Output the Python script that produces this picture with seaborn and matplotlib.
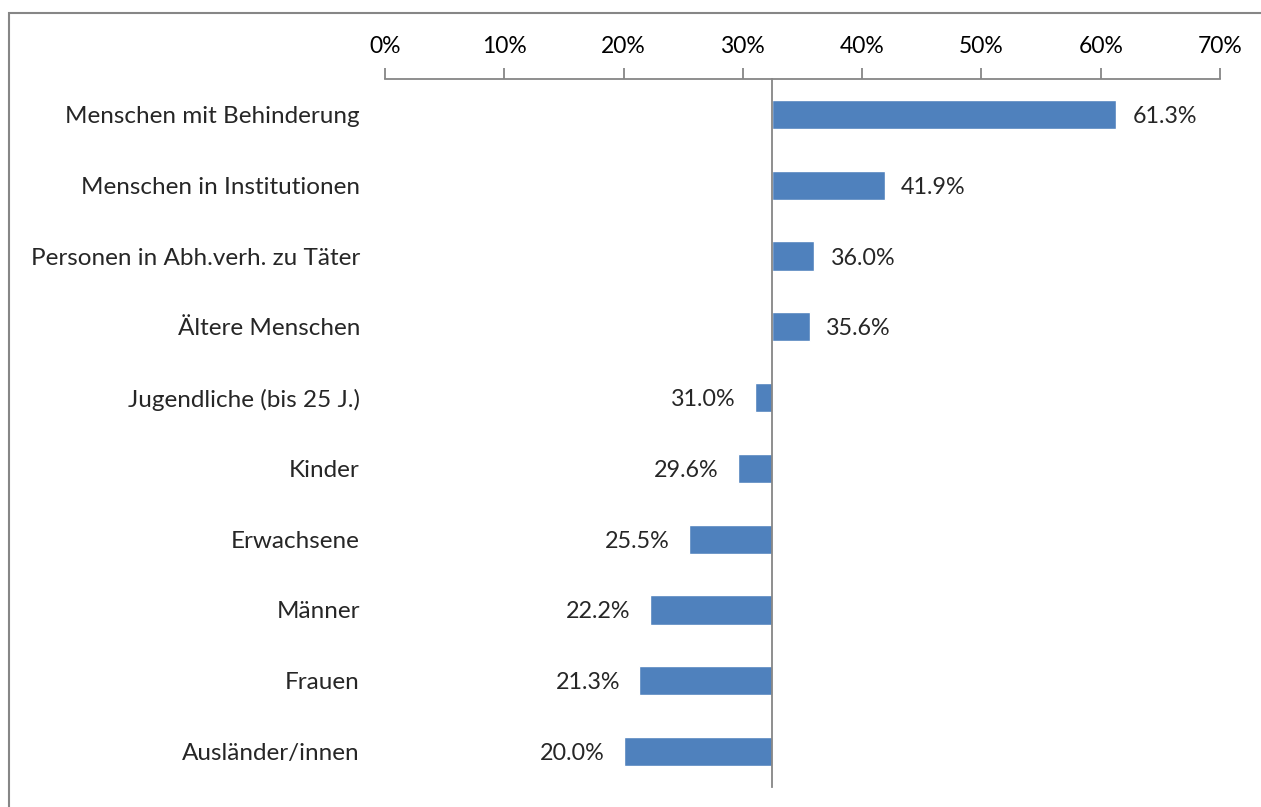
import matplotlib.pyplot as plt
import matplotlib.transforms as mtransforms
from matplotlib.patches import Rectangle
import numpy as np
import pandas as pd
import seaborn as sns

categories = ["Menschen mit Behinderung", "Menschen in Institutionen",
              "Personen in Abh.verh. zu Täter", "Ältere Menschen",
              "Jugendliche (bis 25 J.)", "Kinder", "Erwachsene", "Männer",
              "Frauen", "Ausländer/innen"]
values = [61.3, 41.9, 36.0, 35.6, 31.0, 29.6, 25.5, 22.2, 21.3, 20.0]
xticks = [0, 10, 20, 30, 40, 50, 60, 70]

# Balken starten am Mittelwert
base = np.mean(values)

df = pd.DataFrame({"cat": categories, "val": values})
df["diff"] = df["val"] - base

sns.set_style("white")
plt.rcParams['font.family'] = ['Lato', 'DejaVu Sans']
grey = "#868686"

fig = plt.figure(figsize=(12.61, 8.07), dpi=100)
ax = fig.add_axes([0.3053, 0.0248, 0.6622, 0.8773])

sns.barplot(data=df, x="diff", y="cat", orient="h", color="#4F81BD",
            saturation=1, width=0.41, ax=ax)

ax.set_xlim(xticks[0] - base, xticks[-1] - base)
ax.set_ylim(len(categories) - 0.5, -0.5)
ax.set_xlabel("")
ax.set_ylabel("")

ax.xaxis.tick_top()
ax.set_xticks([t - base for t in xticks], labels=[f"{t}%" for t in xticks])
ax.tick_params(axis="x", direction="out", length=8, width=1.3, color=grey,
               labelsize=16.5, pad=8, labelcolor="black")

ax.spines["left"].set_position(("data", 0))
for s in ["right", "bottom"]:
    ax.spines[s].set_visible(False)
for s in ["top", "left"]:
    ax.spines[s].set_color(grey)
    ax.spines[s].set_linewidth(1.3)

ax.set_yticks(range(len(categories)), labels=[])
ax.set_yticks(np.arange(-0.5, len(categories)), minor=True)
ax.tick_params(axis="y", which="major", length=0)
ax.tick_params(axis="y", which="minor", direction="out", length=8,
               width=1.3, color=grey)

trans = mtransforms.blended_transform_factory(ax.transAxes, ax.transData)
for i, (c, v) in enumerate(zip(categories, values)):
    ax.text(-0.03, i, c, transform=trans, ha="right", va="center_baseline",
            fontsize=17.5)
    d = v - base
    if d >= 0:
        ax.text(d + 1.35, i, f"{v:.1f}%", ha="left", va="center_baseline",
                fontsize=16.8)
    else:
        ax.text(d - 1.6, i, f"{v:.1f}%", ha="right", va="center_baseline",
                fontsize=16.8)

fig.patches.append(Rectangle((9 / 1261, -0.1), 1.2, 1 - 13 / 807 + 0.1,
                             transform=fig.transFigure, fill=False,
                             edgecolor=grey, linewidth=1.5))

fig.savefig("out.png", dpi=100, facecolor="white")
